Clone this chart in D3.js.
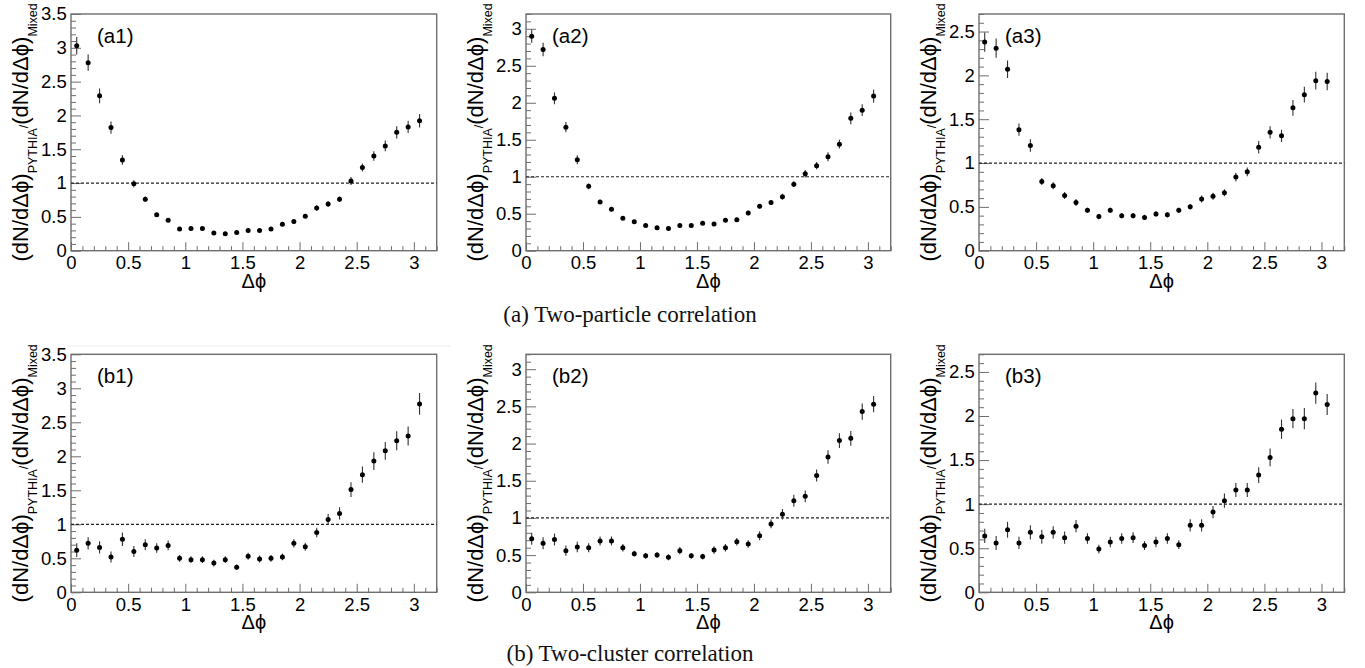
<!DOCTYPE html>
<html><head><meta charset="utf-8">
<script src="https://cdn.jsdelivr.net/npm/d3@7"></script>
<style>body{margin:0;background:#fff}svg{display:block}</style>
</head><body><svg id="c" width="1365" height="668"></svg>
<script>
// ---- data ----
const dphi = [0.05,0.15,0.25,0.35,0.45,0.55,0.65,0.75,0.85,0.95,1.05,1.15,1.25,1.35,1.45,1.55,1.65,1.75,1.85,1.95,2.05,2.15,2.25,2.35,2.45,2.55,2.65,2.75,2.85,2.95,3.05];

const a1Vals = [3.03,2.78,2.29,1.82,1.34,0.99,0.76,0.53,0.45,0.32,0.33,0.33,0.26,0.25,0.27,0.30,0.30,0.32,0.39,0.43,0.51,0.63,0.69,0.76,1.03,1.23,1.40,1.55,1.75,1.83,1.92];
const a1Errs = [0.13,0.12,0.11,0.09,0.07,0.05,0.04,0.03,0.03,0.02,0.02,0.02,0.02,0.02,0.02,0.02,0.02,0.02,0.03,0.03,0.03,0.04,0.04,0.04,0.06,0.06,0.07,0.08,0.09,0.09,0.10];

const a2Vals = [2.90,2.72,2.06,1.67,1.23,0.87,0.66,0.56,0.44,0.39,0.34,0.31,0.30,0.34,0.34,0.37,0.36,0.41,0.42,0.51,0.60,0.65,0.73,0.90,1.04,1.15,1.27,1.44,1.79,1.90,2.09];
const a2Errs = [0.09,0.09,0.08,0.07,0.06,0.04,0.03,0.03,0.02,0.02,0.02,0.02,0.02,0.02,0.02,0.02,0.02,0.02,0.02,0.03,0.03,0.03,0.04,0.04,0.05,0.05,0.06,0.06,0.08,0.08,0.09];

const a3Vals = [2.38,2.31,2.07,1.38,1.20,0.79,0.74,0.63,0.55,0.46,0.39,0.46,0.40,0.40,0.38,0.42,0.41,0.46,0.50,0.59,0.62,0.66,0.84,0.90,1.18,1.35,1.31,1.63,1.78,1.94,1.93];
const a3Errs = [0.11,0.11,0.10,0.07,0.07,0.04,0.04,0.04,0.04,0.03,0.03,0.03,0.03,0.03,0.03,0.03,0.03,0.03,0.03,0.04,0.04,0.04,0.05,0.05,0.07,0.07,0.07,0.09,0.09,0.10,0.10];

const b1Vals = [0.62,0.72,0.66,0.52,0.78,0.60,0.70,0.65,0.69,0.50,0.48,0.48,0.43,0.48,0.37,0.53,0.49,0.50,0.52,0.72,0.67,0.88,1.07,1.16,1.51,1.73,1.93,2.08,2.23,2.30,2.77];
const b1Errs = [0.10,0.09,0.09,0.08,0.10,0.08,0.08,0.07,0.07,0.05,0.05,0.05,0.05,0.05,0.04,0.05,0.05,0.05,0.05,0.06,0.06,0.07,0.08,0.09,0.11,0.12,0.13,0.13,0.14,0.14,0.16];

const b2Vals = [0.72,0.66,0.71,0.56,0.61,0.60,0.69,0.69,0.60,0.52,0.49,0.50,0.47,0.56,0.49,0.48,0.57,0.60,0.68,0.65,0.76,0.92,1.05,1.23,1.29,1.57,1.82,2.04,2.07,2.43,2.53];
const b2Errs = [0.08,0.08,0.08,0.07,0.07,0.06,0.06,0.06,0.05,0.04,0.04,0.04,0.04,0.05,0.04,0.04,0.05,0.05,0.05,0.05,0.06,0.06,0.07,0.08,0.08,0.08,0.09,0.10,0.10,0.11,0.11];

const b3Vals = [0.64,0.56,0.71,0.56,0.68,0.63,0.68,0.62,0.75,0.61,0.49,0.57,0.61,0.62,0.53,0.57,0.61,0.54,0.76,0.76,0.91,1.04,1.16,1.16,1.33,1.53,1.85,1.97,1.97,2.26,2.13];
const b3Errs = [0.08,0.08,0.09,0.07,0.08,0.08,0.07,0.07,0.07,0.06,0.05,0.06,0.06,0.06,0.05,0.06,0.06,0.05,0.07,0.07,0.07,0.08,0.08,0.08,0.09,0.10,0.11,0.11,0.12,0.12,0.12];

const panelLabels = ["(a1)","(a2)","(a3)","(b1)","(b2)","(b3)"];
const yMaxes = [3.5,3.2,2.7,3.5,3.2,2.7];
const xMajorTicks = [0,0.5,1,1.5,2,2.5,3];
const xMinorTicks = [0.1,0.2,0.3,0.4,0.6,0.7,0.8,0.9,1.1,1.2,1.3,1.4,1.6,1.7,1.8,1.9,2.1,2.2,2.3,2.4,2.6,2.7,2.8,2.9,3.1,3.2];
const captions = ["(a) Two-particle correlation","(b) Two-cluster correlation"];
const xTitle = "Δϕ";

// ---- layout ----
const cols = [{l:71,r:436.7},{l:526,r:890.7},{l:979,r:1344.3}];
const rows = [{t:14,b:250.7},{t:354.3,b:592.3}];
const captionPos = [{x:630,y:322},{x:630,y:661}];

const svg = d3.select("#c");
svg.append("rect").attr("width",1365).attr("height",668).attr("fill","#fff");
// faint scan line artifact
svg.append("line").attr("x1",68).attr("x2",450).attr("y1",346).attr("y2",346)
  .attr("stroke","#ebebeb").attr("stroke-width",1.2);

const SANS = "'Liberation Sans', Arial, Helvetica, sans-serif";
const FRAME = "#6e6e6e";

const series = [[a1Vals,a1Errs],[a2Vals,a2Errs],[a3Vals,a3Errs],[b1Vals,b1Errs],[b2Vals,b2Errs],[b3Vals,b3Errs]];

series.forEach(([vals, errs], i) => {
  const box = {...cols[i%3], ...rows[Math.floor(i/3)]};
  const ymax = yMaxes[i];
  const x = d3.scaleLinear().domain([0,3.2]).range([box.l, box.r]);
  const y = d3.scaleLinear().domain([0,ymax]).range([box.b, box.t]);
  const g = svg.append("g");

  const yMajor = d3.range(0, ymax+1e-9, 0.5).map(v=>+v.toFixed(1));
  const yMinor = d3.range(0, ymax+1e-9, 0.1).map(v=>+v.toFixed(1)).filter(v=>Math.abs(v*2-Math.round(v*2))>1e-6);

  const fmt = d => String(+(+d).toFixed(1));
  // x axis
  const gxMin = g.append("g").attr("transform",`translate(0,${box.b})`)
    .call(d3.axisBottom(x).tickValues(xMinorTicks).tickSizeInner(-4.5).tickSizeOuter(0).tickFormat(""));
  const gx = g.append("g").attr("transform",`translate(0,${box.b})`)
    .call(d3.axisBottom(x).tickValues(xMajorTicks).tickSizeInner(-8.5).tickSizeOuter(0).tickPadding(5.5).tickFormat(fmt));
  // y axis
  const gyMin = g.append("g").attr("transform",`translate(${box.l},0)`)
    .call(d3.axisLeft(y).tickValues(yMinor).tickSizeInner(-5).tickSizeOuter(0).tickFormat(""));
  const gy = g.append("g").attr("transform",`translate(${box.l},0)`)
    .call(d3.axisLeft(y).tickValues(yMajor).tickSizeInner(-10).tickSizeOuter(0).tickPadding(4.3).tickFormat(fmt));

  [gxMin,gx,gyMin,gy].forEach(a=>{
    a.select(".domain").remove();
    a.selectAll(".tick line").attr("stroke",FRAME).attr("stroke-width",1);
    a.selectAll("text").attr("fill","#000").style("font-family",SANS).style("font-size","18.5px");
  });

  // frame
  g.append("rect").attr("x",box.l).attr("y",box.t).attr("width",box.r-box.l).attr("height",box.b-box.t)
    .attr("fill","none").attr("stroke",FRAME).attr("stroke-width",1.4);

  // reference line at 1
  g.append("line").attr("x1",x(0)).attr("x2",x(3.2)).attr("y1",y(1)).attr("y2",y(1))
    .attr("stroke","#222").attr("stroke-width",1.2).attr("stroke-dasharray","3,2");

  // error bars
  g.selectAll(".eb").data(vals).enter().append("line")
    .attr("x1",(d,k)=>x(dphi[k])).attr("x2",(d,k)=>x(dphi[k]))
    .attr("y1",(d,k)=>y(d-errs[k])).attr("y2",(d,k)=>y(d+errs[k]))
    .attr("stroke","#333").attr("stroke-width",1.1);
  // markers
  g.selectAll(".pt").data(vals).enter().append("circle")
    .attr("cx",(d,k)=>x(dphi[k])).attr("cy",d=>y(d)).attr("r",2.5).attr("fill","#000");

  // panel label
  g.append("text").attr("x",box.l+26).attr("y",box.t+28.5).text(panelLabels[i])
    .style("font-family",SANS).style("font-size","20.5px").attr("fill","#000");

  // x title
  g.append("text").attr("x",(box.l+box.r)/2).attr("y",box.b+37).attr("text-anchor","middle")
    .text(xTitle).style("font-family",SANS).style("font-size","20px").attr("fill","#000");

  // y title
  const yt = g.append("text")
    .attr("transform",`translate(${box.l-43.5},${(box.t+box.b)/2}) rotate(-90)`)
    .attr("text-anchor","middle").style("font-family",SANS).style("font-size","22px").attr("fill","#000");
  yt.append("tspan").text("(dN/dΔϕ)");
  yt.append("tspan").attr("dy",9.5).style("font-size","12.5px").text("PYTHIA");
  yt.append("tspan").attr("dy",-9.5).style("font-size","12.5px").text("/");
  yt.append("tspan").text("(dN/dΔϕ)");
  yt.append("tspan").attr("dy",9.5).style("font-size","12.5px").text("Mixed");
});

// captions
captions.forEach((c,i)=>{
  svg.append("text").attr("x",captionPos[i].x).attr("y",captionPos[i].y).attr("text-anchor","middle")
    .style("font-family","'Liberation Serif','Times New Roman',serif").style("font-size","23px")
    .attr("fill","#111").text(c);
});
</script>
</body></html>
